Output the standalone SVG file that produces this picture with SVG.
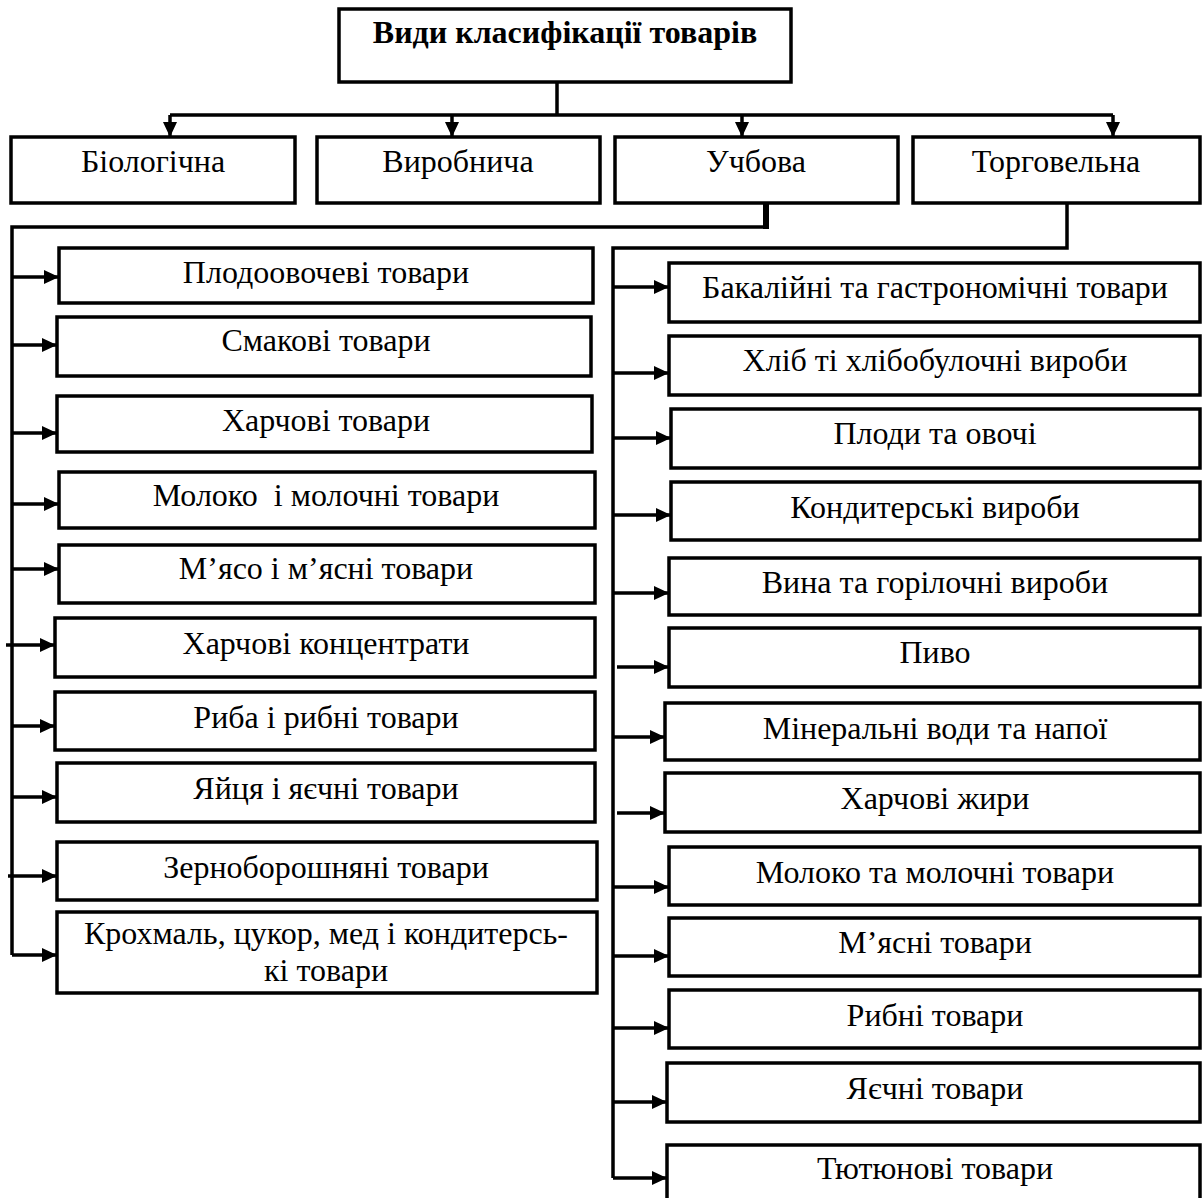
<svg xmlns="http://www.w3.org/2000/svg" width="1203" height="1198" viewBox="0 0 1203 1198">
<style>
.box{fill:#fff;stroke:#000;stroke-width:3.5}
.t{font-family:"Liberation Serif","Times New Roman",serif;font-size:32px;fill:#000;text-anchor:middle}
.b{font-weight:bold}
.ln{fill:none;stroke:#000;stroke-width:3.5}
.ar{fill:none;stroke:#000;stroke-width:3.5;marker-end:url(#ah)}
</style>
<defs>
<marker id="ah" markerUnits="userSpaceOnUse" markerWidth="16" markerHeight="16" refX="15" refY="8" orient="auto" viewBox="0 0 16 16">
<path d="M0,1 L15,8 L0,15 z" fill="#000"/>
</marker>
</defs>
<rect width="1203" height="1198" fill="#fff"/>
<g id="connectors">
<path class="ln" d="M557,82 V115 M170,115 H1113"/>
<path class="ar" d="M170,115 V137"/>
<path class="ar" d="M452,115 V137"/>
<path class="ar" d="M742,115 V137"/>
<path class="ar" d="M1113,115 V137"/>
<path class="ln" d="M766,203 V229" style="stroke-width:6"/>
<path class="ln" d="M769,227 H12 V955"/>
<path class="ar" d="M12,277 H59"/>
<path class="ar" d="M12,345 H57"/>
<path class="ar" d="M12,433 H57"/>
<path class="ar" d="M12,504 H59"/>
<path class="ar" d="M12,569 H59"/>
<path class="ar" d="M6,645 H55"/>
<path class="ar" d="M12,726 H55"/>
<path class="ar" d="M12,797 H57"/>
<path class="ar" d="M8,876 H57"/>
<path class="ar" d="M12,955 H57"/>
<path class="ln" d="M1067,203 V248 H613 V1178"/>
<path class="ar" d="M613,287 H669"/>
<path class="ar" d="M613,373 H669"/>
<path class="ar" d="M613,438 H671"/>
<path class="ar" d="M613,515 H671"/>
<path class="ar" d="M613,593 H669"/>
<path class="ar" d="M617,667 H669"/>
<path class="ar" d="M613,737 H665"/>
<path class="ar" d="M617,813 H665"/>
<path class="ar" d="M613,887 H669"/>
<path class="ar" d="M613,956 H669"/>
<path class="ar" d="M613,1028 H669"/>
<path class="ar" d="M613,1102 H667"/>
<path class="ar" d="M613,1178 H667"/>
</g>
<g id="root"><rect class="box" x="339" y="9" width="452" height="73"/><text class="t b" x="565" y="43">Види класифікації товарів</text></g>
<g id="biol"><rect class="box" x="11" y="137" width="284" height="66"/><text class="t" x="153" y="172">Біологічна</text></g>
<g id="vyrob"><rect class="box" x="317" y="137" width="283" height="66"/><text class="t" x="458" y="172">Виробнича</text></g>
<g id="uchb"><rect class="box" x="615" y="137" width="283" height="66"/><text class="t" x="756" y="172">Учбова</text></g>
<g id="torh"><rect class="box" x="913" y="137" width="287" height="66"/><text class="t" x="1056" y="172">Торговельна</text></g>
<g id="l1"><rect class="box" x="59" y="248" width="534" height="55"/><text class="t" x="326" y="283">Плодоовочеві товари</text></g>
<g id="l2"><rect class="box" x="57" y="317" width="534" height="59"/><text class="t" x="326" y="351">Смакові товари</text></g>
<g id="l3"><rect class="box" x="57" y="396" width="535" height="56"/><text class="t" x="326" y="431">Харчові товари</text></g>
<g id="l4"><rect class="box" x="59" y="472" width="536" height="56"/><text class="t" x="326" y="506" xml:space="preserve">Молоко  і молочні товари</text></g>
<g id="l5"><rect class="box" x="59" y="545" width="536" height="58"/><text class="t" x="326" y="579">М’ясо і м’ясні товари</text></g>
<g id="l6"><rect class="box" x="55" y="618" width="540" height="59"/><text class="t" x="326" y="654">Харчові концентрати</text></g>
<g id="l7"><rect class="box" x="55" y="692" width="540" height="58"/><text class="t" x="326" y="728">Риба і рибні товари</text></g>
<g id="l8"><rect class="box" x="57" y="763" width="538" height="59"/><text class="t" x="326" y="799">Яйця і яєчні товари</text></g>
<g id="l9"><rect class="box" x="57" y="842" width="540" height="58"/><text class="t" x="326" y="878">Зерноборошняні товари</text></g>
<g id="l10"><rect class="box" x="57" y="912" width="540" height="81"/><text class="t" x="326" y="944">Крохмаль, цукор, мед і кондитерсь-</text><text class="t" x="326" y="981">кі товари</text></g>
<g id="r1"><rect class="box" x="669" y="263" width="531" height="59"/><text class="t" x="935" y="298">Бакалійні та гастрономічні товари</text></g>
<g id="r2"><rect class="box" x="669" y="336" width="531" height="59"/><text class="t" x="935" y="371">Хліб ті хлібобулочні вироби</text></g>
<g id="r3"><rect class="box" x="671" y="409" width="529" height="59"/><text class="t" x="935" y="444">Плоди та овочі</text></g>
<g id="r4"><rect class="box" x="671" y="482" width="529" height="58"/><text class="t" x="935" y="518">Кондитерські вироби</text></g>
<g id="r5"><rect class="box" x="669" y="558" width="531" height="57"/><text class="t" x="935" y="593">Вина та горілочні вироби</text></g>
<g id="r6"><rect class="box" x="669" y="628" width="531" height="59"/><text class="t" x="935" y="663">Пиво</text></g>
<g id="r7"><rect class="box" x="665" y="703" width="535" height="57"/><text class="t" x="935" y="739">Мінеральні води та напої</text></g>
<g id="r8"><rect class="box" x="665" y="773" width="535" height="59"/><text class="t" x="935" y="809">Харчові жири</text></g>
<g id="r9"><rect class="box" x="669" y="847" width="531" height="58"/><text class="t" x="935" y="883">Молоко та молочні товари</text></g>
<g id="r10"><rect class="box" x="669" y="918" width="531" height="58"/><text class="t" x="935" y="953">М’ясні товари</text></g>
<g id="r11"><rect class="box" x="669" y="990" width="531" height="58"/><text class="t" x="935" y="1026">Рибні товари</text></g>
<g id="r12"><rect class="box" x="667" y="1063" width="533" height="59"/><text class="t" x="935" y="1099">Яєчні товари</text></g>
<g id="r13"><rect class="box" x="667" y="1145" width="533" height="60"/><text class="t" x="935" y="1179">Тютюнові товари</text></g>
</svg>
